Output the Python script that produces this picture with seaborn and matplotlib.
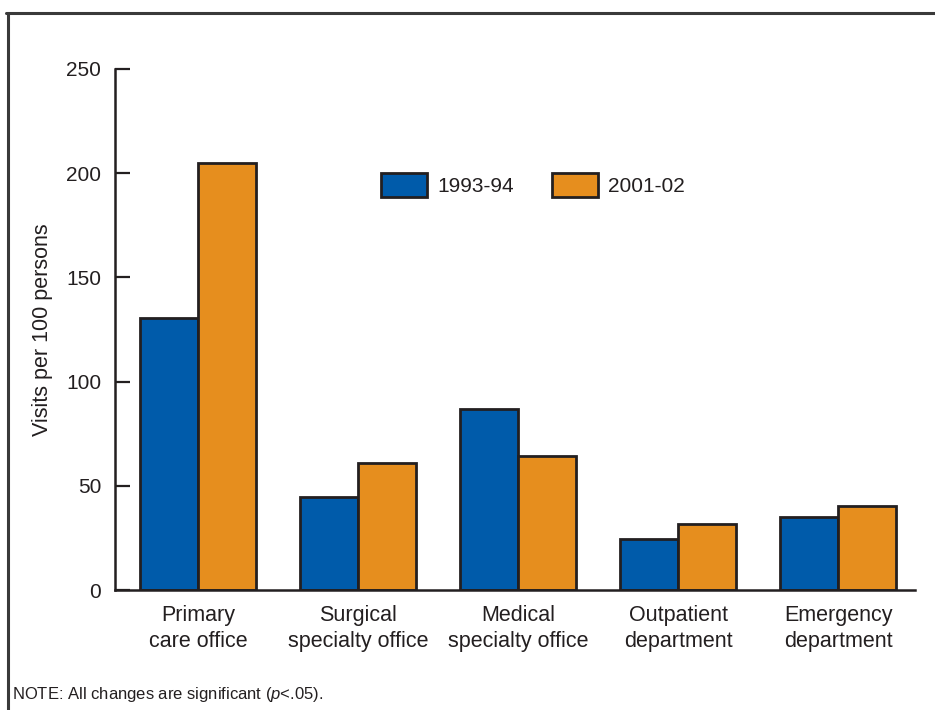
import pandas as pd
import matplotlib.pyplot as plt
import seaborn as sns
from matplotlib.lines import Line2D

# Values (visits per 100 persons)
settings = ['Primary\ncare office', 'Surgical\nspecialty office', 'Medical\nspecialty office',
            'Outpatient\ndepartment', 'Emergency\ndepartment']
visits_1993 = [130.5, 44.6, 86.9, 24.5, 35.0]
visits_2001 = [204.9, 60.9, 64.3, 31.7, 40.3]
periods = ['1993-94', '2001-02']
colors = ['#005BAA', '#E68E1E']
y_ticks = [0, 50, 100, 150, 200, 250]

df = pd.DataFrame({
    'Setting': settings * 2,
    'Period': [periods[0]] * len(settings) + [periods[1]] * len(settings),
    'Visits': visits_1993 + visits_2001,
})

sns.set_style('white')
plt.rcParams['font.family'] = ['Liberation Sans', 'DejaVu Sans']
plt.rcParams['mathtext.fontset'] = 'custom'
plt.rcParams['mathtext.it'] = 'Liberation Sans:italic'
plt.rcParams['mathtext.rm'] = 'Liberation Sans'
dark = '#231F20'

fig = plt.figure(figsize=(9.35, 7.1), dpi=100)
ax = fig.add_axes([115 / 935, 1 - 590 / 710, 800 / 935, 521 / 710])

sns.barplot(data=df, x='Setting', y='Visits', hue='Period', palette=colors,
            saturation=1, width=0.728, gap=0, edgecolor=dark, linewidth=2, ax=ax)

ax.set_ylim(0, 250)
ax.set_xlim(-0.52, 4.48)
ax.set_yticks(y_ticks)
ax.set_ylabel('Visits per 100 persons', fontsize=15.5, color=dark, labelpad=9)
ax.set_xlabel('')
ax.tick_params(axis='y', direction='in', length=11, width=1.6, color=dark,
               labelsize=15, labelcolor=dark, pad=10, left=True)
ax.tick_params(axis='x', length=0, labelsize=15.5, labelcolor=dark, pad=11)
for lbl in ax.get_xticklabels():
    lbl.set_linespacing(1.3)

for side in ['top', 'right']:
    ax.spines[side].set_visible(False)
for side in ['left', 'bottom']:
    ax.spines[side].set_color(dark)
    ax.spines[side].set_linewidth(1.8)

leg = ax.legend(loc='center', bbox_to_anchor=(533 / 935, 1 - 185 / 710),
                bbox_transform=fig.transFigure, ncol=2, frameon=False,
                fontsize=15, handlelength=2.2, handleheight=1.35,
                columnspacing=1.85, handletextpad=0.5)
for t in leg.get_texts():
    t.set_color(dark)

# outer frame (top and left edges only)
fig.add_artist(Line2D([6 / 935, 1.0], [1 - 13 / 710, 1 - 13 / 710],
                      transform=fig.transFigure, color='#3a3a3a', linewidth=2.2))
fig.add_artist(Line2D([8 / 935, 8 / 935], [1 - 13 / 710, 0.0],
                      transform=fig.transFigure, color='#3a3a3a', linewidth=2.2))

fig.text(12 / 935, 1 - 695 / 710,
         'NOTE: All changes are significant ($\\it{p}$<.05).',
         fontsize=12, color=dark, va='center', ha='left')

fig.savefig('out.png', dpi=100)
